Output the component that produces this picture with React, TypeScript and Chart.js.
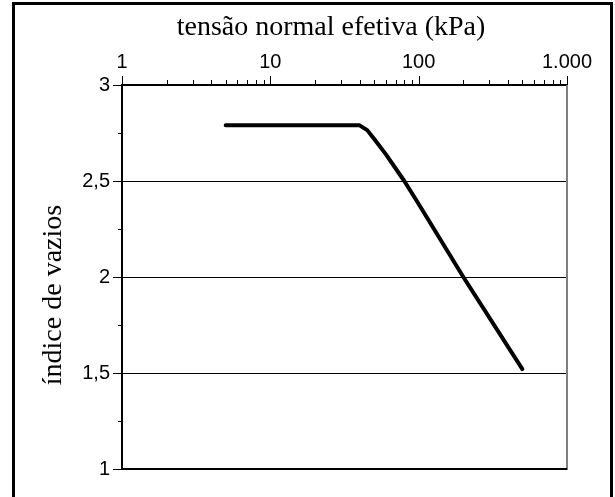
import React, { useEffect, useRef } from "react";
import { Chart, registerables } from "chart.js";

Chart.register(...registerables);

// ---- data ----
const stress = [5, 10, 20, 40, 45, 50, 60, 80, 100, 200, 500];
const voidRatio = [2.79, 2.79, 2.79, 2.79, 2.765, 2.72, 2.64, 2.5, 2.38, 2.0, 1.52];
const xMajorTicks = [1, 10, 100, 1000];
const xTickLabels = ["1", "10", "100", "1.000"];
const yMajorTicks = [1, 1.5, 2, 2.5, 3];
const yTickLabels = ["1", "1,5", "2", "2,5", "3"];
const yMinorTicks = [1.25, 1.75, 2.25, 2.75];
const xTitle = "tensão normal efetiva (kPa)";
const yTitle = "índice de vazios";

export default function App() {
  const ref = useRef<HTMLCanvasElement>(null);

  useEffect(() => {
    const canvas = ref.current!;
    const tickFont = { family: "'Liberation Sans', Arial, sans-serif", size: 20 };

    const deco = {
      id: "deco",
      afterDraw(chart: any) {
        const { ctx, chartArea: a, scales } = chart;
        const xs = scales.x;
        const ys = scales.y;
        const line = (x1: number, y1: number, x2: number, y2: number) => {
          ctx.beginPath();
          ctx.moveTo(x1, y1);
          ctx.lineTo(x2, y2);
          ctx.stroke();
        };
        ctx.save();
        // right border (gray)
        ctx.strokeStyle = "#7f7f7f";
        ctx.lineWidth = 2;
        line(a.right, a.top, a.right, a.bottom + 1);
        // bottom border
        ctx.strokeStyle = "#000";
        ctx.lineWidth = 2;
        line(a.left, a.bottom, a.right, a.bottom);
        // x tick marks (top)
        ctx.lineWidth = 1;
        xs.ticks.forEach((t: any) => {
          const px = Math.round(xs.getPixelForValue(t.value)) + 0.5;
          const len = xMajorTicks.includes(t.value) ? 9 : 5;
          line(px, a.top, px, a.top - len);
        });
        // y tick marks (left)
        ys.ticks.forEach((t: any) => {
          const py = Math.round(ys.getPixelForValue(t.value)) + 0.5;
          const len = yMajorTicks.includes(t.value) ? 9 : 4;
          line(a.left, py, a.left - len, py);
        });
        // outer frame
        ctx.lineWidth = 3;
        ctx.beginPath();
        ctx.moveTo(13.5, 500);
        ctx.lineTo(13.5, 3.5);
        ctx.lineTo(611.5, 3.5);
        ctx.lineTo(611.5, 500);
        ctx.stroke();
        // titles
        ctx.fillStyle = "#000";
        ctx.textAlign = "center";
        ctx.textBaseline = "middle";
        ctx.font = "28px 'Liberation Serif', 'Times New Roman', serif";
        ctx.fillText(xTitle, 331, 28);
        ctx.translate(54, 295);
        ctx.rotate(-Math.PI / 2);
        ctx.fillText(yTitle, 0, 0);
        ctx.restore();
      },
    };

    const minorX: number[] = [];
    for (let d = 1; d < 1000; d *= 10) {
      for (let m = 2; m <= 9; m++) minorX.push(m * d);
    }

    const chart = new Chart(canvas, {
      type: "line",
      data: {
        datasets: [
          {
            data: stress.map((s, i) => ({ x: s, y: voidRatio[i] })),
            borderColor: "#000",
            borderWidth: 4,
            borderCapStyle: "round",
            borderJoinStyle: "round",
            pointRadius: 0,
            tension: 0,
            fill: false,
          },
        ],
      },
      options: {
        animation: false,
        responsive: false,
        devicePixelRatio: 1,
        layout: { padding: { left: 0, top: 0, right: 48, bottom: 28 } },
        plugins: { legend: { display: false }, tooltip: { enabled: false } },
        scales: {
          x: {
            type: "logarithmic",
            position: "top",
            min: 1,
            max: 1000,
            afterBuildTicks: (s: any) => {
              s.ticks = [...xMajorTicks, ...minorX].sort((p, q) => p - q).map((v) => ({ value: v }));
            },
            afterFit: (s: any) => {
              s.height = 85;
            },
            grid: { display: true, drawOnChartArea: false, drawTicks: false },
            border: { display: true, color: "#000", width: 2 },
            ticks: {
              autoSkip: false,
              maxRotation: 0,
              padding: 11,
              color: "#000",
              font: tickFont,
              callback: (v: any) => {
                const i = xMajorTicks.indexOf(Number(v));
                return i >= 0 ? xTickLabels[i] : "";
              },
            },
          },
          y: {
            type: "linear",
            min: 1,
            max: 3,
            afterBuildTicks: (s: any) => {
              s.ticks = [...yMajorTicks, ...yMinorTicks].sort((p, q) => p - q).map((v) => ({ value: v }));
            },
            afterFit: (s: any) => {
              s.width = 122;
            },
            grid: {
              drawTicks: false,
              color: (c: any) => ([1.5, 2, 2.5].includes(c.tick?.value) ? "#000" : "rgba(0,0,0,0)"),
              lineWidth: 1,
            },
            border: { display: true, color: "#000", width: 2 },
            ticks: {
              autoSkip: false,
              padding: 12,
              color: "#000",
              font: tickFont,
              callback: (v: any) => {
                const i = yMajorTicks.indexOf(Number(v));
                return i >= 0 ? yTickLabels[i] : "";
              },
            },
          },
        },
      },
      plugins: [deco],
    } as any);

    return () => chart.destroy();
  }, []);

  return (
    <div style={{ position: "absolute", left: 0, top: 0, width: 615, height: 497, background: "#fff" }}>
      <canvas ref={ref} width={615} height={497} style={{ display: "block" }} />
    </div>
  );
}
